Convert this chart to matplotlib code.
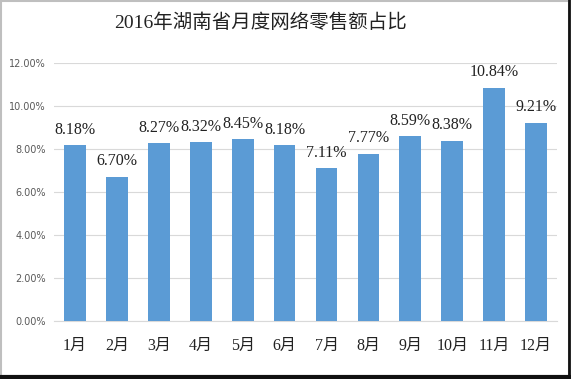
import matplotlib.pyplot as plt
from matplotlib.patches import Rectangle
from matplotlib.ticker import FuncFormatter

months = ["1月", "2月", "3月", "4月", "5月", "6月", "7月", "8月", "9月", "10月", "11月", "12月"]
share = [8.18, 6.70, 8.27, 8.32, 8.45, 8.18, 7.11, 7.77, 8.59, 8.38, 10.84, 9.21]
yticks = [0, 2, 4, 6, 8, 10, 12]

serif_cjk = ["Liberation Serif", "Noto Sans CJK SC"]
bar_color = "#5B9BD5"

fig = plt.figure(figsize=(5.71, 3.79), dpi=100)
ax = fig.add_axes([0.0946, 0.153, 0.881, 0.681])

x = list(range(len(months)))
ax.bar(x, share, width=0.52, color=bar_color, zorder=3)

for xi, v in zip(x, share):
    ax.text(xi, v + 0.35, f"{v:.2f}%", ha="center", va="bottom",
            fontsize=11.5, family=serif_cjk, color="#222222")

ax.set_xlim(-0.5, len(months) - 0.5)
ax.set_ylim(0, 12)
ax.set_yticks(yticks)
ax.yaxis.set_major_formatter(FuncFormatter(lambda v, p: f"{v:.2f}%"))
ax.set_xticks(x)
ax.set_xticklabels(months, family=serif_cjk, fontsize=11.5, color="#222222")
ax.tick_params(axis="y", labelsize=7, colors="#595959", length=0, pad=6)
ax.tick_params(axis="x", length=0, pad=12)
ax.grid(axis="y", color="#D9D9D9", linewidth=0.8, zorder=0)
for s in ["top", "right", "left"]:
    ax.spines[s].set_visible(False)
ax.spines["bottom"].set_color("#D9D9D9")

fig.text(0.457, 0.94, "2016年湖南省月度网络零售额占比", ha="center", va="center",
         fontsize=14, family=serif_cjk, color="#222222")

# outer frame
fig.patches.append(Rectangle((0.002, 0.004), 0.994, 0.994, transform=fig.transFigure,
                             fill=False, edgecolor="#BFBFBF", linewidth=1.5))
fig.add_artist(plt.Line2D([0, 1], [0.004, 0.004], transform=fig.transFigure,
                          color="#111111", linewidth=3))
fig.add_artist(plt.Line2D([0.996, 0.996], [0, 1], transform=fig.transFigure,
                          color="#111111", linewidth=2))

fig.savefig("out.png", dpi=100)
